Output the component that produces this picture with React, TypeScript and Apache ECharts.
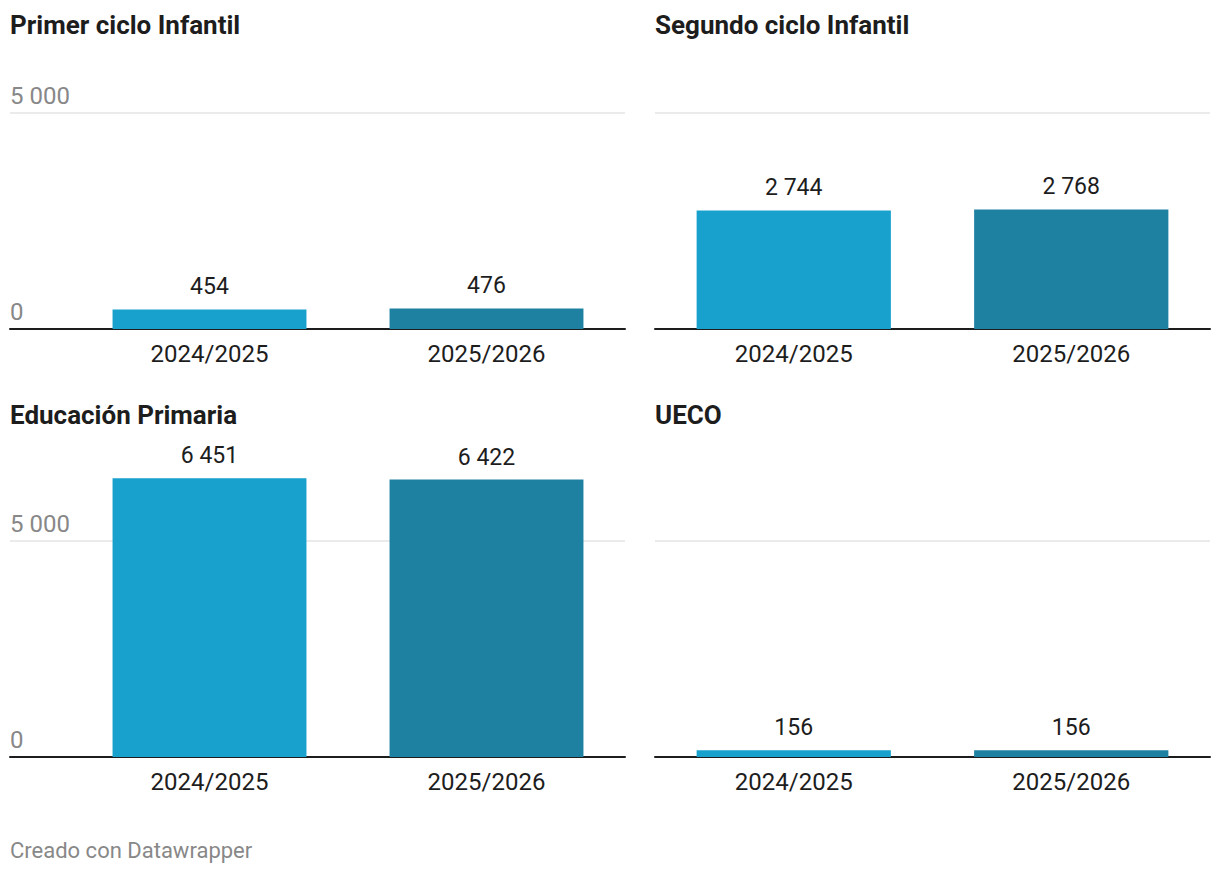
import React, { useEffect, useRef } from "react";
import * as echarts from "echarts";

const categories = ["2024/2025", "2025/2026"];
const panelTitles = ["Primer ciclo Infantil", "Segundo ciclo Infantil", "Educación Primaria", "UECO"];
const primerCiclo = [454, 476];
const segundoCiclo = [2744, 2768];
const primaria = [6451, 6422];
const ueco = [156, 156];
const yTicks = [0, 5000];
const barColors = ["#19a1cd", "#1e81a2"];
const footer = "Creado con Datawrapper";

const fmt = (v: number) => String(v).replace(/\B(?=(\d{3})+(?!\d))/g, " ");

export default function App() {
  const ref = useRef<HTMLDivElement>(null);
  useEffect(() => {
    if (!ref.current) return;
    const chart = echarts.init(ref.current, undefined, { renderer: "svg" });
    const seriesData = [primerCiclo, segundoCiclo, primaria, ueco];
    const font = "Roboto";
    const panels = [
      { left: 10, right: 595, barLeft: 71, top: 113, labels: true },
      { left: 655, right: 10, barLeft: 655, top: 113, labels: false },
      { left: 10, right: 595, barLeft: 71, top: 541, labels: true },
      { left: 655, right: 10, barLeft: 655, top: 541, labels: false },
    ];
    const grid: any[] = [];
    const xAxis: any[] = [];
    const yAxis: any[] = [];
    const series: any[] = [];
    const yMax = yTicks[yTicks.length - 1];
    panels.forEach((p, i) => {
      grid.push({ left: p.left, right: p.right, top: p.top, height: 216 });
      const gA = grid.length - 1;
      xAxis.push({
        gridIndex: gA, type: "value", min: 0, max: 1,
        axisLine: { show: true, onZero: false, lineStyle: { color: "#1d1d1d", width: 2 } },
        axisTick: { show: false }, axisLabel: { show: false }, splitLine: { show: false },
      });
      yAxis.push({
        gridIndex: gA, type: "value", min: 0, max: yMax, interval: yMax,
        axisLine: { show: false }, axisTick: { show: false },
        splitLine: { show: true, lineStyle: { color: "#e5e5e5", width: 1.5 } },
        axisLabel: {
          show: p.labels, inside: true, margin: 0, align: "left", verticalAlign: "bottom",
          padding: [0, 0, 5, 0],
          color: "#888888", fontFamily: font, fontSize: 24,
          formatter: (v: number) => fmt(v),
        },
      });
      grid.push({ left: p.barLeft, right: p.right, top: p.top, height: 216 });
      const gB = grid.length - 1;
      xAxis.push({
        gridIndex: gB, type: "category", data: categories,
        axisLine: { show: false }, axisTick: { show: false },
        axisLabel: { color: "#1d1d1d", fontFamily: font, fontSize: 24, margin: 13 },
      });
      yAxis.push({ gridIndex: gB, type: "value", min: 0, max: yMax, show: false });
      series.push({
        type: "bar", xAxisIndex: xAxis.length - 1, yAxisIndex: yAxis.length - 1,
        barWidth: "70%", clip: false, z: 1,
        data: seriesData[i].map((v, k) => ({ value: v, itemStyle: { color: barColors[k] } })),
        label: {
          show: true, position: "top", distance: 11, color: "#1d1d1d",
          fontFamily: font, fontSize: 23, formatter: (d: any) => fmt(d.value),
        },
      });
    });
    const titlePos = [[10, 12], [655, 12], [10, 402], [655, 402]];
    const graphic: any[] = panelTitles.map((t, i) => ({
      type: "text", left: titlePos[i][0], top: titlePos[i][1],
      style: { text: t, font: `bold 26px ${font}`, fill: "#1d1d1d" },
    }));
    graphic.push({
      type: "text", left: 10, top: 839,
      style: { text: footer, font: `22px ${font}`, fill: "#888888" },
    });
    chart.setOption({ animation: false, grid, xAxis, yAxis, series, graphic });
    return () => chart.dispose();
  }, []);
  return (
    <div
      ref={ref}
      style={{ position: "absolute", left: 0, top: 0, width: 1220, height: 874, background: "#ffffff" }}
    />
  );
}
